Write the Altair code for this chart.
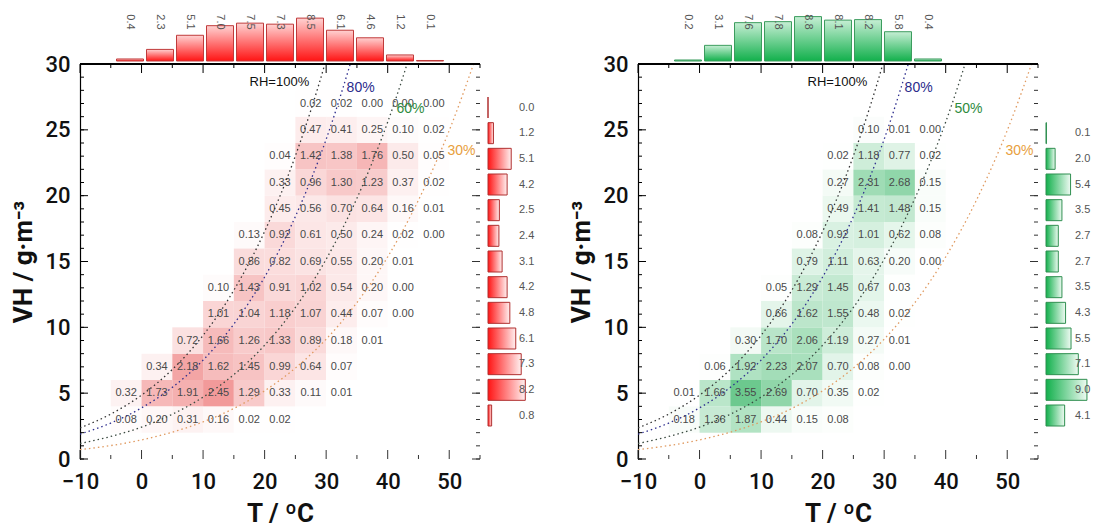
import altair as alt
import pandas as pd

# ---------------------------------------------------------------
# Joint distribution (%) of air temperature T and vapour density VH
# T bins are 5 ºC wide, VH bins are 2 g/m3 wide (rows given by centre)
# ---------------------------------------------------------------
VH_ROWS = [3, 5, 7, 9, 11, 13, 15, 17, 19, 21, 23, 25, 27]

# left panel: lower edge of the first T bin in each row, then the row's cells
RED_START = [-5, -5, 0, 5, 10, 10, 15, 15, 20, 20, 20, 25, 25]
RED_CELLS = [
    [0.08, 0.20, 0.31, 0.16, 0.02, 0.02],
    [0.32, 1.73, 1.91, 2.45, 1.29, 0.33, 0.11, 0.01],
    [0.34, 2.18, 1.62, 1.45, 0.99, 0.64, 0.07],
    [0.72, 1.66, 1.26, 1.33, 0.89, 0.18, 0.01],
    [1.01, 1.04, 1.18, 1.07, 0.44, 0.07, 0.00],
    [0.10, 1.43, 0.91, 1.02, 0.54, 0.20, 0.00],
    [0.86, 0.82, 0.69, 0.55, 0.20, 0.01],
    [0.13, 0.92, 0.61, 0.50, 0.24, 0.02, 0.00],
    [0.45, 0.56, 0.70, 0.64, 0.16, 0.01],
    [0.33, 0.96, 1.30, 1.23, 0.37, 0.02],
    [0.04, 1.42, 1.38, 1.76, 0.50, 0.05],
    [0.47, 0.41, 0.25, 0.10, 0.02],
    [0.02, 0.02, 0.00, 0.00, 0.00],
]
RED_TOP_T = [-5, 0, 5, 10, 15, 20, 25, 30, 35, 40, 45]
RED_TOP = [0.4, 2.3, 5.1, 7.0, 7.5, 7.3, 8.5, 6.1, 4.6, 1.2, 0.1]
RED_SIDE = [0.8, 8.2, 7.3, 6.1, 4.8, 4.2, 3.1, 2.4, 2.5, 4.2, 5.1, 1.2, 0.0]

# right panel
GREEN_START = [-5, -5, 0, 5, 10, 10, 15, 15, 20, 20, 20, 25]
GREEN_CELLS = [
    [0.18, 1.36, 1.87, 0.44, 0.15, 0.08],
    [0.01, 1.66, 3.55, 2.69, 0.70, 0.35, 0.02],
    [0.06, 1.92, 2.23, 2.07, 0.70, 0.08, 0.00],
    [0.30, 1.70, 2.06, 1.19, 0.27, 0.01],
    [0.66, 1.62, 1.55, 0.48, 0.02],
    [0.05, 1.29, 1.45, 0.67, 0.03],
    [0.79, 1.11, 0.63, 0.20, 0.00],
    [0.08, 0.92, 1.01, 0.62, 0.08],
    [0.49, 1.41, 1.48, 0.15],
    [0.27, 2.31, 2.68, 0.15],
    [0.02, 1.18, 0.77, 0.02],
    [0.10, 0.01, 0.00],
]
GREEN_TOP_T = [-5, 0, 5, 10, 15, 20, 25, 30, 35]
GREEN_TOP = [0.2, 3.1, 7.6, 7.8, 8.8, 8.1, 8.2, 5.8, 0.4]
GREEN_SIDE = [4.1, 9.0, 7.1, 5.5, 4.3, 3.5, 2.7, 2.7, 3.5, 5.4, 2.0, 0.1]

# relative-humidity isolines: VH (g/m3) at T = -10, -5, 0, ... ºC
CURVE_T = [-10, -5, 0, 5, 10, 15, 20, 25, 30, 35, 40, 45, 50, 55]
RH100 = [2.36, 3.41, 4.85, 6.80, 9.39, 12.82, 17.28, 23.02, 30.35, 39.60]
RH80 = [1.89, 2.73, 3.88, 5.44, 7.51, 10.25, 13.82, 18.42, 24.28, 31.68]
RH50 = [1.18, 1.71, 2.42, 3.40, 4.70, 6.41, 8.64, 11.51, 15.17, 19.80, 25.59, 32.76]
RH30 = [0.71, 1.02, 1.45, 2.04, 2.82, 3.84, 5.18, 6.91, 9.10, 11.88, 15.35,
        19.66, 24.95, 31.41]

FONT = "Liberation Sans"
AXIS_FONT = "Roboto"
PW, PH = 400, 395      # heat-map plot area
TOP_H = 55             # marginal histogram above
T_DOMAIN = [-10, 55]
VH_DOMAIN = [0, 30]


def x_scale():
    return alt.Scale(domain=T_DOMAIN, nice=False, zero=False)


def y_scale():
    return alt.Scale(domain=VH_DOMAIN, nice=False, zero=False)


def cell_frame(starts, cells):
    recs = []
    for vh, t0, row in zip(VH_ROWS, starts, cells):
        for i, v in enumerate(row):
            lo = t0 + 5 * i
            recs.append({"t0": lo, "t1": lo + 5, "tm": lo + 2.5,
                         "v0": vh - 1, "v1": vh + 1, "vm": vh, "p": v})
    return pd.DataFrame(recs)


def tick_layers():
    ymaj = pd.DataFrame({"v": list(range(0, 31, 5))})
    ymin = pd.DataFrame({"v": list(range(0, 31))})
    xmaj = pd.DataFrame({"t": list(range(-10, 56, 10))})
    xmin = pd.DataFrame({"t": list(range(-5, 56, 10))})
    ye = alt.Y("v:Q", scale=y_scale())
    xe = alt.X("t:Q", scale=x_scale())
    layers = []
    for df, ln in ((ymaj, 8), (ymin, 4)):
        layers.append(alt.Chart(df).mark_rule(color="#000", strokeWidth=1).encode(
            y=ye, x=alt.value(0), x2=alt.value(ln)))
        layers.append(alt.Chart(df).mark_rule(color="#333", strokeWidth=1).encode(
            y=ye, x=alt.value(PW - ln), x2=alt.value(PW)))
    for df, ln in ((xmaj, 9), (xmin, 4)):
        layers.append(alt.Chart(df).mark_rule(color="#000", strokeWidth=1).encode(
            x=xe, y=alt.value(0), y2=alt.value(ln)))
        layers.append(alt.Chart(df).mark_rule(color="#333", strokeWidth=1).encode(
            x=xe, y=alt.value(PH - ln), y2=alt.value(PH)))
    # upper frame line
    layers.append(alt.Chart(ymaj).mark_rule(color="#000", strokeWidth=1.2).encode(
        x=alt.value(0), x2=alt.value(PW), y=alt.value(0)))
    return layers


def curve_layers(labels):
    layers = []
    styles = [(RH100, "#333333"), (RH80, "#2f2f8f"), (RH50, "#3a4a40"), (RH30, "#e09a60")]
    for vals, col in styles:
        df = pd.DataFrame({"t": CURVE_T[:len(vals)], "vh": vals})
        layers.append(alt.Chart(df).mark_line(
            color=col, strokeWidth=1.3, strokeDash=[1.5, 3], clip=True,
            interpolate="monotone").encode(
            x=alt.X("t:Q", scale=x_scale()),
            y=alt.Y("vh:Q", scale=y_scale())))
    for txt, t, vh, col, fs in labels:
        df = pd.DataFrame({"t": [t], "vh": [vh], "s": [txt]})
        layers.append(alt.Chart(df).mark_text(
            color=col, fontSize=fs, font=FONT).encode(
            x=alt.X("t:Q", scale=x_scale()),
            y=alt.Y("vh:Q", scale=y_scale()),
            text="s:N"))
    return layers


def heat_chart(starts, cells, cmax, hot, labels):
    df = cell_frame(starts, cells)
    rect = alt.Chart(df).mark_rect().encode(
        x=alt.X("t0:Q", scale=x_scale(),
                axis=alt.Axis(values=list(range(-10, 51, 10)), ticks=False,
                              domain=False, grid=False, labelFlush=False,
                              labelFontSize=22, labelPadding=12,
                              labelFont=AXIS_FONT, labelColor="#111",
                              labelFontWeight=500,
                              title="T  /  ºC", titleFontSize=26,
                              titleFont=AXIS_FONT, titleFontWeight="bold",
                              titlePadding=8, titleColor="#111")),
        x2="t1:Q",
        y=alt.Y("v0:Q", scale=y_scale(),
                axis=alt.Axis(values=list(range(0, 31, 5)), ticks=False,
                              domain=True, domainColor="#000", domainWidth=1.2,
                              grid=False, labelFlush=False, labelFontSize=22,
                              labelPadding=10, labelFont=AXIS_FONT,
                              labelFontWeight=500,
                              labelColor="#111", title="VH  /  g·m⁻³",
                              titleFontSize=26, titleFont=AXIS_FONT,
                              titleFontWeight="bold", titlePadding=8,
                              titleColor="#111")),
        y2="v1:Q",
        color=alt.Color("p:Q", scale=alt.Scale(domain=[0, cmax],
                                               range=["#ffffff", hot],
                                               interpolate="rgb"),
                        legend=None),
    )
    text = alt.Chart(df).mark_text(fontSize=11, font=FONT, color="#4a4a4a").encode(
        x=alt.X("tm:Q", scale=x_scale()),
        y=alt.Y("vm:Q", scale=y_scale()),
        text=alt.Text("p:Q", format=".2f"),
    )
    layers = [rect, text] + curve_layers(labels) + tick_layers()
    return alt.layer(*layers).properties(width=PW, height=PH)


def bar_fill(strong, light, horizontal):
    if horizontal:
        return alt.Gradient(gradient="linear", x1=0, y1=0, x2=1, y2=0,
                            stops=[alt.GradientStop(color=strong, offset=0),
                                   alt.GradientStop(color=light, offset=1)])
    return alt.Gradient(gradient="linear", x1=0, y1=1, x2=0, y2=0,
                        stops=[alt.GradientStop(color=strong, offset=0),
                               alt.GradientStop(color=light, offset=1)])


def top_chart(ts, vals, strong, light, edge):
    df = pd.DataFrame({"tm": [t + 2.5 for t in ts], "p": vals})
    bars = alt.Chart(df).mark_bar(
        size=27, orient="vertical", fill=bar_fill(strong, light, False),
        stroke=edge, strokeWidth=1).encode(
        x=alt.X("tm:Q", scale=x_scale(), axis=None),
        y=alt.Y("p:Q", scale=alt.Scale(domain=[0, 10.9], nice=False), axis=None),
    )
    labels = alt.Chart(df).mark_text(
        angle=90, fontSize=11, font=FONT, color="#555", baseline="middle",
        align="center").encode(
        x=alt.X("tm:Q", scale=x_scale(), axis=None),
        y=alt.value(16),
        text=alt.Text("p:Q", format=".1f"),
    )
    return alt.layer(bars, labels).properties(width=PW, height=TOP_H)


def side_chart(vals, width, strong, light, edge, label_x):
    df = pd.DataFrame({"vm": VH_ROWS[:len(vals)], "p": vals})
    bars = alt.Chart(df).mark_bar(
        size=21, orient="horizontal", fill=bar_fill(strong, light, True),
        stroke=edge, strokeWidth=1).encode(
        x=alt.X("p:Q", scale=alt.Scale(domain=[0, width / 4.55], nice=False),
                axis=None),
        y=alt.Y("vm:Q", scale=y_scale(), axis=None),
    )
    labels = alt.Chart(df).mark_text(
        fontSize=11, font=FONT, color="#555", align="left",
        baseline="middle").encode(
        x=alt.value(label_x),
        y=alt.Y("vm:Q", scale=y_scale(), axis=None),
        text=alt.Text("p:Q", format=".1f"),
    )
    return alt.layer(bars, labels).properties(width=width, height=PH)


def blank(width):
    return alt.Chart(pd.DataFrame({"a": [0]})).mark_point(opacity=0).encode(
        x=alt.value(0), y=alt.value(0)).properties(width=width, height=TOP_H)


SIDE_L, SIDE_R = 142, 46

red_labels = [("RH=100%", 22.4, 28.6, "#111111", 13), ("80%", 35.6, 28.2, "#2b2b8c", 14),
              ("60%", 43.7, 26.6, "#2e8b3e", 14), ("30%", 52.0, 23.4, "#e8a040", 14)]
green_labels = [("RH=100%", 22.4, 28.6, "#111111", 13), ("80%", 35.6, 28.2, "#2b2b8c", 14),
                ("50%", 43.7, 26.6, "#2e8b3e", 14), ("30%", 52.0, 23.4, "#e8a040", 14)]

top_l = top_chart(RED_TOP_T, RED_TOP, "#ff1414", "#ffd2d2", "#c03a3a")
top_r = top_chart(GREEN_TOP_T, GREEN_TOP, "#12b04c", "#c6eed4", "#3c9c5e")
heat_l = heat_chart(RED_START, RED_CELLS, 2.45, "#f29a9a", red_labels)
heat_r = heat_chart(GREEN_START, GREEN_CELLS, 3.55, "#6cc98e", green_labels)
side_l = side_chart(RED_SIDE, SIDE_L, "#ff1414", "#fff0f0", "#b03030", 31)
side_r = side_chart(GREEN_SIDE, SIDE_R, "#12b04c", "#eefaf2", "#2f8f50", 29)

chart = alt.concat(
    top_l, blank(SIDE_L), top_r, blank(SIDE_R),
    heat_l, side_l, heat_r, side_r,
    columns=4, spacing={"row": 3, "column": 8}, bounds="flush", align="each",
).resolve_scale(
    color="independent"
).properties(
    padding={"left": 10, "top": 2, "right": 0, "bottom": 0},
    background="white",
).configure_view(stroke="transparent")

chart.save("out.html", embed_options={"renderer": "svg", "actions": False})
